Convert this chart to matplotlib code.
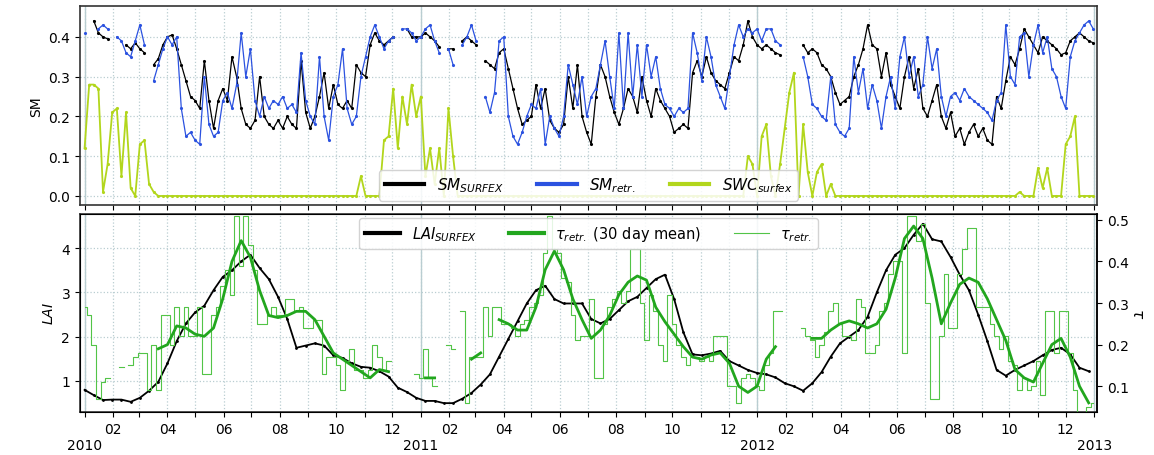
import numpy as np
import pandas as pd
import matplotlib
matplotlib.use('Agg')
import matplotlib.pyplot as plt
from matplotlib.lines import Line2D

nan = np.nan

# 5-day sampled series, starting 2010-01-01
sm_surfex = [
    nan, nan, 0.44, 0.41, 0.40, 0.395, nan, nan, nan, 0.38,
    0.37, 0.385, 0.37, 0.36, nan, 0.33, 0.345, 0.38, 0.40, 0.405,
    0.37, 0.33, 0.29, 0.25, 0.24, 0.22, 0.34, 0.24, 0.17, 0.24,
    0.27, 0.24, 0.35, 0.30, 0.22, 0.18, 0.17, 0.19, 0.30, 0.20,
    0.18, 0.17, 0.19, 0.17, 0.20, 0.18, 0.17, 0.34, 0.21, 0.17,
    0.20, 0.25, 0.31, 0.22, 0.28, 0.23, 0.22, 0.24, 0.22, 0.33,
    0.31, 0.30, 0.38, 0.41, 0.39, 0.38, 0.39, 0.40, nan, nan,
    0.42, 0.40, 0.40, 0.40, 0.41, 0.40, 0.39, 0.375, nan, 0.37,
    0.37, nan, 0.39, 0.40, 0.39, 0.38, nan, 0.34, 0.33, 0.32,
    0.36, 0.37, 0.32, 0.27, 0.22, 0.18, 0.19, 0.20, 0.28, 0.22,
    0.27, 0.19, 0.17, 0.16, 0.18, 0.30, 0.22, 0.33, 0.20, 0.16,
    0.13, 0.25, 0.33, 0.30, 0.25, 0.21, 0.18, 0.22, 0.27, 0.25,
    0.21, 0.30, 0.24, 0.20, 0.27, 0.24, 0.22, 0.20, 0.16, 0.17,
    0.18, 0.17, 0.31, 0.34, 0.30, 0.35, 0.31, 0.29, 0.28, 0.27,
    0.31, 0.35, 0.34, 0.38, 0.44, 0.40, 0.38, 0.37, 0.38, 0.37,
    0.36, 0.355, nan, nan, nan, nan, 0.38, 0.36, 0.37, 0.36,
    0.33, 0.32, 0.30, 0.26, 0.23, 0.24, 0.25, 0.30, 0.33, 0.37,
    0.43, 0.38, 0.37, 0.30, 0.36, 0.28, 0.25, 0.22, 0.30, 0.35,
    0.27, 0.32, 0.22, 0.20, 0.24, 0.28, 0.20, 0.17, 0.21, 0.15,
    0.17, 0.13, 0.16, 0.18, 0.15, 0.17, 0.14, 0.13, 0.25, 0.22,
    0.29, 0.35, 0.33, 0.37, 0.42, 0.40, 0.38, 0.36, 0.40, 0.39,
    0.38, 0.37, 0.355, 0.36, 0.39, 0.40, 0.41, 0.40, 0.39, 0.385,
]

sm_retr = [
    0.41, nan, nan, 0.42, 0.43, 0.42, nan, 0.40, 0.39, 0.36,
    0.35, 0.39, 0.43, 0.38, nan, 0.29, 0.33, 0.37, 0.40, 0.38,
    0.40, 0.22, 0.15, 0.16, 0.14, 0.13, 0.30, 0.18, 0.15, 0.16,
    0.24, 0.26, 0.22, 0.28, 0.41, 0.30, 0.37, 0.24, 0.20, 0.25,
    0.22, 0.24, 0.23, 0.25, 0.22, 0.23, 0.21, 0.36, 0.24, 0.20,
    0.18, 0.35, 0.20, 0.14, 0.25, 0.28, 0.37, 0.22, 0.18, 0.20,
    0.30, 0.35, 0.40, 0.43, 0.40, 0.37, 0.39, 0.40, nan, 0.42,
    0.42, 0.41, 0.39, 0.40, 0.42, 0.43, 0.39, 0.36, nan, 0.37,
    0.33, nan, 0.38, 0.40, 0.43, 0.39, nan, 0.25, 0.21, 0.26,
    0.39, 0.40, 0.20, 0.15, 0.13, 0.16, 0.20, 0.23, 0.22, 0.27,
    0.13, 0.20, 0.17, 0.15, 0.20, 0.33, 0.28, 0.23, 0.30, 0.20,
    0.25, 0.27, 0.33, 0.39, 0.30, 0.22, 0.41, 0.22, 0.41, 0.25,
    0.38, 0.25, 0.38, 0.30, 0.35, 0.27, 0.23, 0.22, 0.20, 0.22,
    0.21, 0.22, 0.41, 0.36, 0.29, 0.40, 0.35, 0.28, 0.25, 0.22,
    0.30, 0.38, 0.43, 0.40, 0.42, 0.41, 0.42, 0.39, 0.42, 0.42,
    0.39, 0.38, nan, nan, nan, nan, 0.35, 0.30, 0.23, 0.22,
    0.20, 0.19, 0.30, 0.18, 0.16, 0.15, 0.17, 0.35, 0.26, 0.32,
    0.22, 0.28, 0.24, 0.17, 0.25, 0.30, 0.22, 0.35, 0.40, 0.30,
    0.35, 0.25, 0.28, 0.40, 0.32, 0.37, 0.25, 0.20, 0.25, 0.26,
    0.24, 0.27, 0.25, 0.24, 0.23, 0.22, 0.21, 0.19, 0.24, 0.26,
    0.43, 0.30, 0.28, 0.40, 0.41, 0.30, 0.38, 0.43, 0.36, 0.40,
    0.32, 0.30, 0.25, 0.22, 0.35, 0.39, 0.41, 0.43, 0.44, 0.42,
]

swc_surfex = [
    0.12, 0.28, 0.28, 0.27, 0.01, 0.08, 0.21, 0.22, 0.05, 0.21,
    0.02, 0.00, 0.13, 0.14, 0.03, 0.01, 0.00, 0.00, 0.00, 0.00,
    0.00, 0.00, 0.00, 0.00, 0.00, 0.00, 0.00, 0.00, 0.00, 0.00,
    0.00, 0.00, 0.00, 0.00, 0.00, 0.00, 0.00, 0.00, 0.00, 0.00,
    0.00, 0.00, 0.00, 0.00, 0.00, 0.00, 0.00, 0.00, 0.00, 0.00,
    0.00, 0.00, 0.00, 0.00, 0.00, 0.00, 0.00, 0.00, 0.00, 0.00,
    0.05, 0.00, 0.00, 0.00, 0.00, 0.14, 0.15, 0.27, 0.12, 0.25,
    0.18, 0.28, 0.20, 0.25, 0.05, 0.12, 0.03, 0.12, 0.00, 0.22,
    0.10, 0.00, 0.00, 0.00, 0.00, 0.00, 0.00, 0.00, 0.00, 0.00,
    0.00, 0.00, 0.00, 0.00, 0.00, 0.00, 0.00, 0.00, 0.00, 0.00,
    0.00, 0.00, 0.00, 0.00, 0.00, 0.00, 0.00, 0.00, 0.00, 0.00,
    0.00, 0.00, 0.00, 0.00, 0.00, 0.00, 0.00, 0.00, 0.00, 0.00,
    0.00, 0.00, 0.00, 0.00, 0.00, 0.00, 0.00, 0.00, 0.00, 0.00,
    0.00, 0.00, 0.00, 0.00, 0.00, 0.00, 0.00, 0.00, 0.00, 0.00,
    0.00, 0.00, 0.00, 0.00, 0.10, 0.08, 0.00, 0.15, 0.18, 0.05,
    0.00, 0.08, 0.17, 0.26, 0.31, 0.00, 0.18, 0.06, 0.00, 0.06,
    0.08, 0.00, 0.03, 0.00, 0.00, 0.00, 0.00, 0.00, 0.00, 0.00,
    0.00, 0.00, 0.00, 0.00, 0.00, 0.00, 0.00, 0.00, 0.00, 0.00,
    0.00, 0.00, 0.00, 0.00, 0.00, 0.00, 0.00, 0.00, 0.00, 0.00,
    0.00, 0.00, 0.00, 0.00, 0.00, 0.00, 0.00, 0.00, 0.00, 0.00,
    0.00, 0.00, 0.00, 0.01, 0.00, 0.00, 0.00, 0.07, 0.02, 0.07,
    0.00, 0.00, 0.00, 0.13, 0.15, 0.20, 0.00, 0.00, 0.00, 0.00,
]

tau_retr = [
    0.29, 0.27, 0.20, 0.07, 0.11, 0.12, nan, nan, 0.145, nan,
    0.15, 0.17, 0.18, 0.18, 0.09, 0.20, 0.09, 0.27, 0.27, 0.20,
    0.29, 0.22, 0.29, 0.22, 0.22, 0.29, 0.13, 0.13, 0.27, 0.29,
    0.34, 0.38, 0.32, 0.51, 0.39, 0.51, 0.44, 0.38, 0.25, 0.25,
    0.27, 0.29, 0.27, 0.27, 0.31, 0.31, 0.28, 0.29, 0.24, 0.24,
    0.26, 0.26, 0.13, 0.17, 0.17, 0.15, 0.09, 0.16, 0.19, 0.14,
    0.14, 0.12, 0.14, 0.20, 0.17, 0.14, 0.16, nan, nan, nan,
    nan, nan, 0.13, 0.12, 0.19, 0.12, 0.10, nan, nan, 0.20,
    0.19, nan, 0.28, 0.06, 0.17, 0.17, 0.17, 0.29, 0.22, 0.29,
    0.29, 0.25, 0.25, 0.24, 0.22, 0.25, 0.26, 0.29, 0.30, 0.32,
    0.42, 0.51, 0.43, 0.42, 0.36, 0.35, 0.27, 0.21, 0.22, 0.22,
    0.31, 0.12, 0.12, 0.25, 0.29, 0.31, 0.33, 0.30, 0.33, 0.43,
    0.43, 0.30, 0.21, 0.32, 0.28, 0.20, 0.16, 0.32, 0.25, 0.20,
    0.17, 0.15, 0.17, 0.17, 0.16, 0.17, 0.16, 0.22, 0.22, 0.22,
    0.10, 0.10, 0.06, 0.12, 0.13, 0.12, 0.10, 0.09, 0.15, 0.18,
    0.28, 0.28, nan, nan, nan, nan, 0.24, 0.22, 0.21, 0.17,
    0.20, 0.23, 0.28, 0.30, 0.25, 0.22, 0.22, 0.21, 0.31, 0.29,
    0.18, 0.18, 0.20, 0.28, 0.30, 0.37, 0.40, 0.40, 0.18, 0.51,
    0.51, 0.45, 0.49, 0.30, 0.07, 0.07, 0.22, 0.37, 0.24, 0.24,
    0.37, 0.43, 0.48, 0.48, 0.29, 0.29, 0.29, 0.25, 0.22, 0.19,
    0.22, 0.16, 0.15, 0.09, 0.12, 0.09, 0.10, 0.16, 0.08, 0.28,
    0.28, 0.18, 0.28, 0.28, 0.18, 0.09, 0.03, 0.03, 0.05, 0.06,
]

# 10-day sampled series, starting 2010-01-01
lai_surfex = [
    0.80, 0.68, 0.57, 0.58, 0.58, 0.53, 0.62, 0.78, 0.98, 1.40,
    1.90, 2.30, 2.55, 2.70, 3.05, 3.35, 3.50, 3.70, 3.85, 3.55,
    3.30, 2.90, 2.40, 1.75, 1.80, 1.85, 1.80, 1.58, 1.52, 1.40,
    1.32, 1.30, 1.22, 1.10, 0.85, 0.75, 0.62, 0.55, 0.55, 0.50,
    0.50, 0.60, 0.73, 0.92, 1.15, 1.55, 1.95, 2.35, 2.75, 3.05,
    3.15, 2.85, 2.75, 2.75, 2.75, 2.40, 2.30, 2.40, 2.60, 2.80,
    2.90, 3.10, 3.30, 3.40, 2.85, 2.10, 1.60, 1.58, 1.62, 1.68,
    1.45, 1.35, 1.25, 1.18, 1.15, 1.08, 0.95, 0.88, 0.78, 0.95,
    1.20, 1.55, 1.85, 2.00, 2.15, 2.45, 3.00, 3.50, 3.85, 4.00,
    4.30, 4.55, 4.20, 4.15, 3.80, 3.40, 3.05, 2.50, 1.90, 1.25,
    1.12, 1.25, 1.35, 1.45, 1.58, 1.70, 1.75, 1.60, 1.30, 1.22,
]

tau_mean = [
    nan, nan, nan, nan, nan, nan, nan, nan, 0.19, 0.20,
    0.245, 0.24, 0.225, 0.22, 0.24, 0.31, 0.40, 0.45, 0.41, 0.33,
    0.27, 0.265, 0.27, 0.28, 0.28, 0.26, 0.22, 0.18, 0.165, 0.15,
    0.135, 0.12, 0.14, 0.135, nan, nan, nan, 0.12, 0.12, nan,
    nan, nan, 0.165, 0.18, nan, 0.26, 0.25, 0.235, 0.235, 0.29,
    0.38, 0.425, 0.38, 0.31, 0.26, 0.215, 0.235, 0.27, 0.32, 0.35,
    0.365, 0.355, 0.29, 0.255, 0.225, 0.195, 0.17, 0.165, 0.175, 0.18,
    0.155, 0.10, 0.085, 0.10, 0.165, 0.195, nan, nan, nan, 0.215,
    0.215, 0.235, 0.25, 0.257, 0.25, 0.24, 0.25, 0.285, 0.36, 0.455,
    0.485, 0.455, 0.36, 0.25, 0.30, 0.345, 0.36, 0.35, 0.31, 0.26,
    0.21, 0.14, 0.12, 0.11, 0.155, 0.20, 0.215, 0.17, 0.10, 0.06,
]

days5 = pd.date_range('2010-01-01', periods=len(sm_surfex), freq='5D')
days10 = pd.date_range('2010-01-01', periods=len(lai_surfex), freq='10D')

month_ticks = pd.date_range('2010-01-01', '2013-01-01', freq='MS')
tick_labels = []
for d in month_ticks:
    if d.month == 1:
        tick_labels.append('\n%d' % d.year)
    elif d.month % 2 == 0:
        tick_labels.append('%02d' % d.month)
    else:
        tick_labels.append('')

c_black = 'black'
c_blue = '#2b52e0'
c_lime = '#b2d61c'
c_green = '#22a61e'
c_lgreen = '#52c447'
c_grid = '#b9cdd1'

fig = plt.figure(figsize=(11.54, 4.56), dpi=100)
ax1 = fig.add_axes([0.0693, 0.548, 0.8813, 0.437])
ax2 = fig.add_axes([0.0693, 0.0943, 0.8813, 0.4342])
ax3 = ax2.twinx()

xmin = pd.Timestamp('2009-12-27')
xmax = pd.Timestamp('2013-01-04')

# top: soil moisture
ax1.plot(days5, swc_surfex, color=c_lime, lw=1.3, marker='.', ms=2.5, zorder=2)
ax1.plot(days5, sm_surfex, color=c_black, lw=0.9, marker='.', ms=2.5, zorder=3)
ax1.plot(days5, sm_retr, color=c_blue, lw=0.9, marker='.', ms=2.5, zorder=4)
ax1.set_ylim(-0.023, 0.478)
ax1.set_yticks([0.0, 0.1, 0.2, 0.3, 0.4])
ax1.set_ylabel('SM', fontsize=10)

h1 = [Line2D([], [], color=c_black, lw=3),
      Line2D([], [], color=c_blue, lw=3),
      Line2D([], [], color=c_lime, lw=3)]
ax1.legend(h1, [r'$SM_{SURFEX}$', r'$SM_{retr.}$', r'$SWC_{surfex}$'],
           loc='lower center', ncol=3, fontsize=11, handlelength=2.6,
           columnspacing=2.2, framealpha=0.85, borderaxespad=0.3)

# bottom: LAI and tau
ax2.plot(days10, lai_surfex, color=c_black, lw=1.3, marker='.', ms=2, zorder=3)
ax2.set_ylim(0.30, 4.77)
ax2.set_yticks([1, 2, 3, 4])
ax2.set_ylabel(r'$LAI$', fontsize=10)

ax3.plot(days5, tau_retr, color=c_lgreen, lw=0.8, drawstyle='steps-mid', zorder=2)
ax3.plot(days10, tau_mean, color=c_green, lw=2, zorder=3)
ax3.set_ylim(0.038, 0.514)
ax3.set_yticks([0.1, 0.2, 0.3, 0.4, 0.5])
ax3.set_ylabel(r'$\tau$', fontsize=11, rotation=270, labelpad=12)
ax3.tick_params(labelsize=10, direction='out')

h2 = [Line2D([], [], color=c_black, lw=3),
      Line2D([], [], color=c_green, lw=3),
      Line2D([], [], color=c_lgreen, lw=0.8)]
ax3.legend(h2, [r'$LAI_{SURFEX}$', r'$\tau_{retr.}$ (30 day mean)', r'$\tau_{retr.}$'],
           loc='upper center', ncol=3, fontsize=10.5, handlelength=2.4,
           columnspacing=2.2, framealpha=0.85, borderaxespad=0.3)

for ax in (ax1, ax2):
    ax.set_xlim(xmin, xmax)
    ax.set_xticks(month_ticks)
    ax.grid(True, color=c_grid, ls=':', lw=0.9)
    for d in month_ticks:
        if d.month == 1:
            ax.axvline(d, color=c_grid, lw=1, zorder=1)
    ax.tick_params(labelsize=10, direction='out')
    for s in ax.spines.values():
        s.set_color('#333333')
        s.set_linewidth(1.2)
ax3.spines['right'].set_linewidth(1.2)
ax3.set_xlim(xmin, xmax)

ax1.set_xticklabels([])
ax2.set_xticklabels(tick_labels, fontsize=10)

fig.savefig('out.png', dpi=100)
